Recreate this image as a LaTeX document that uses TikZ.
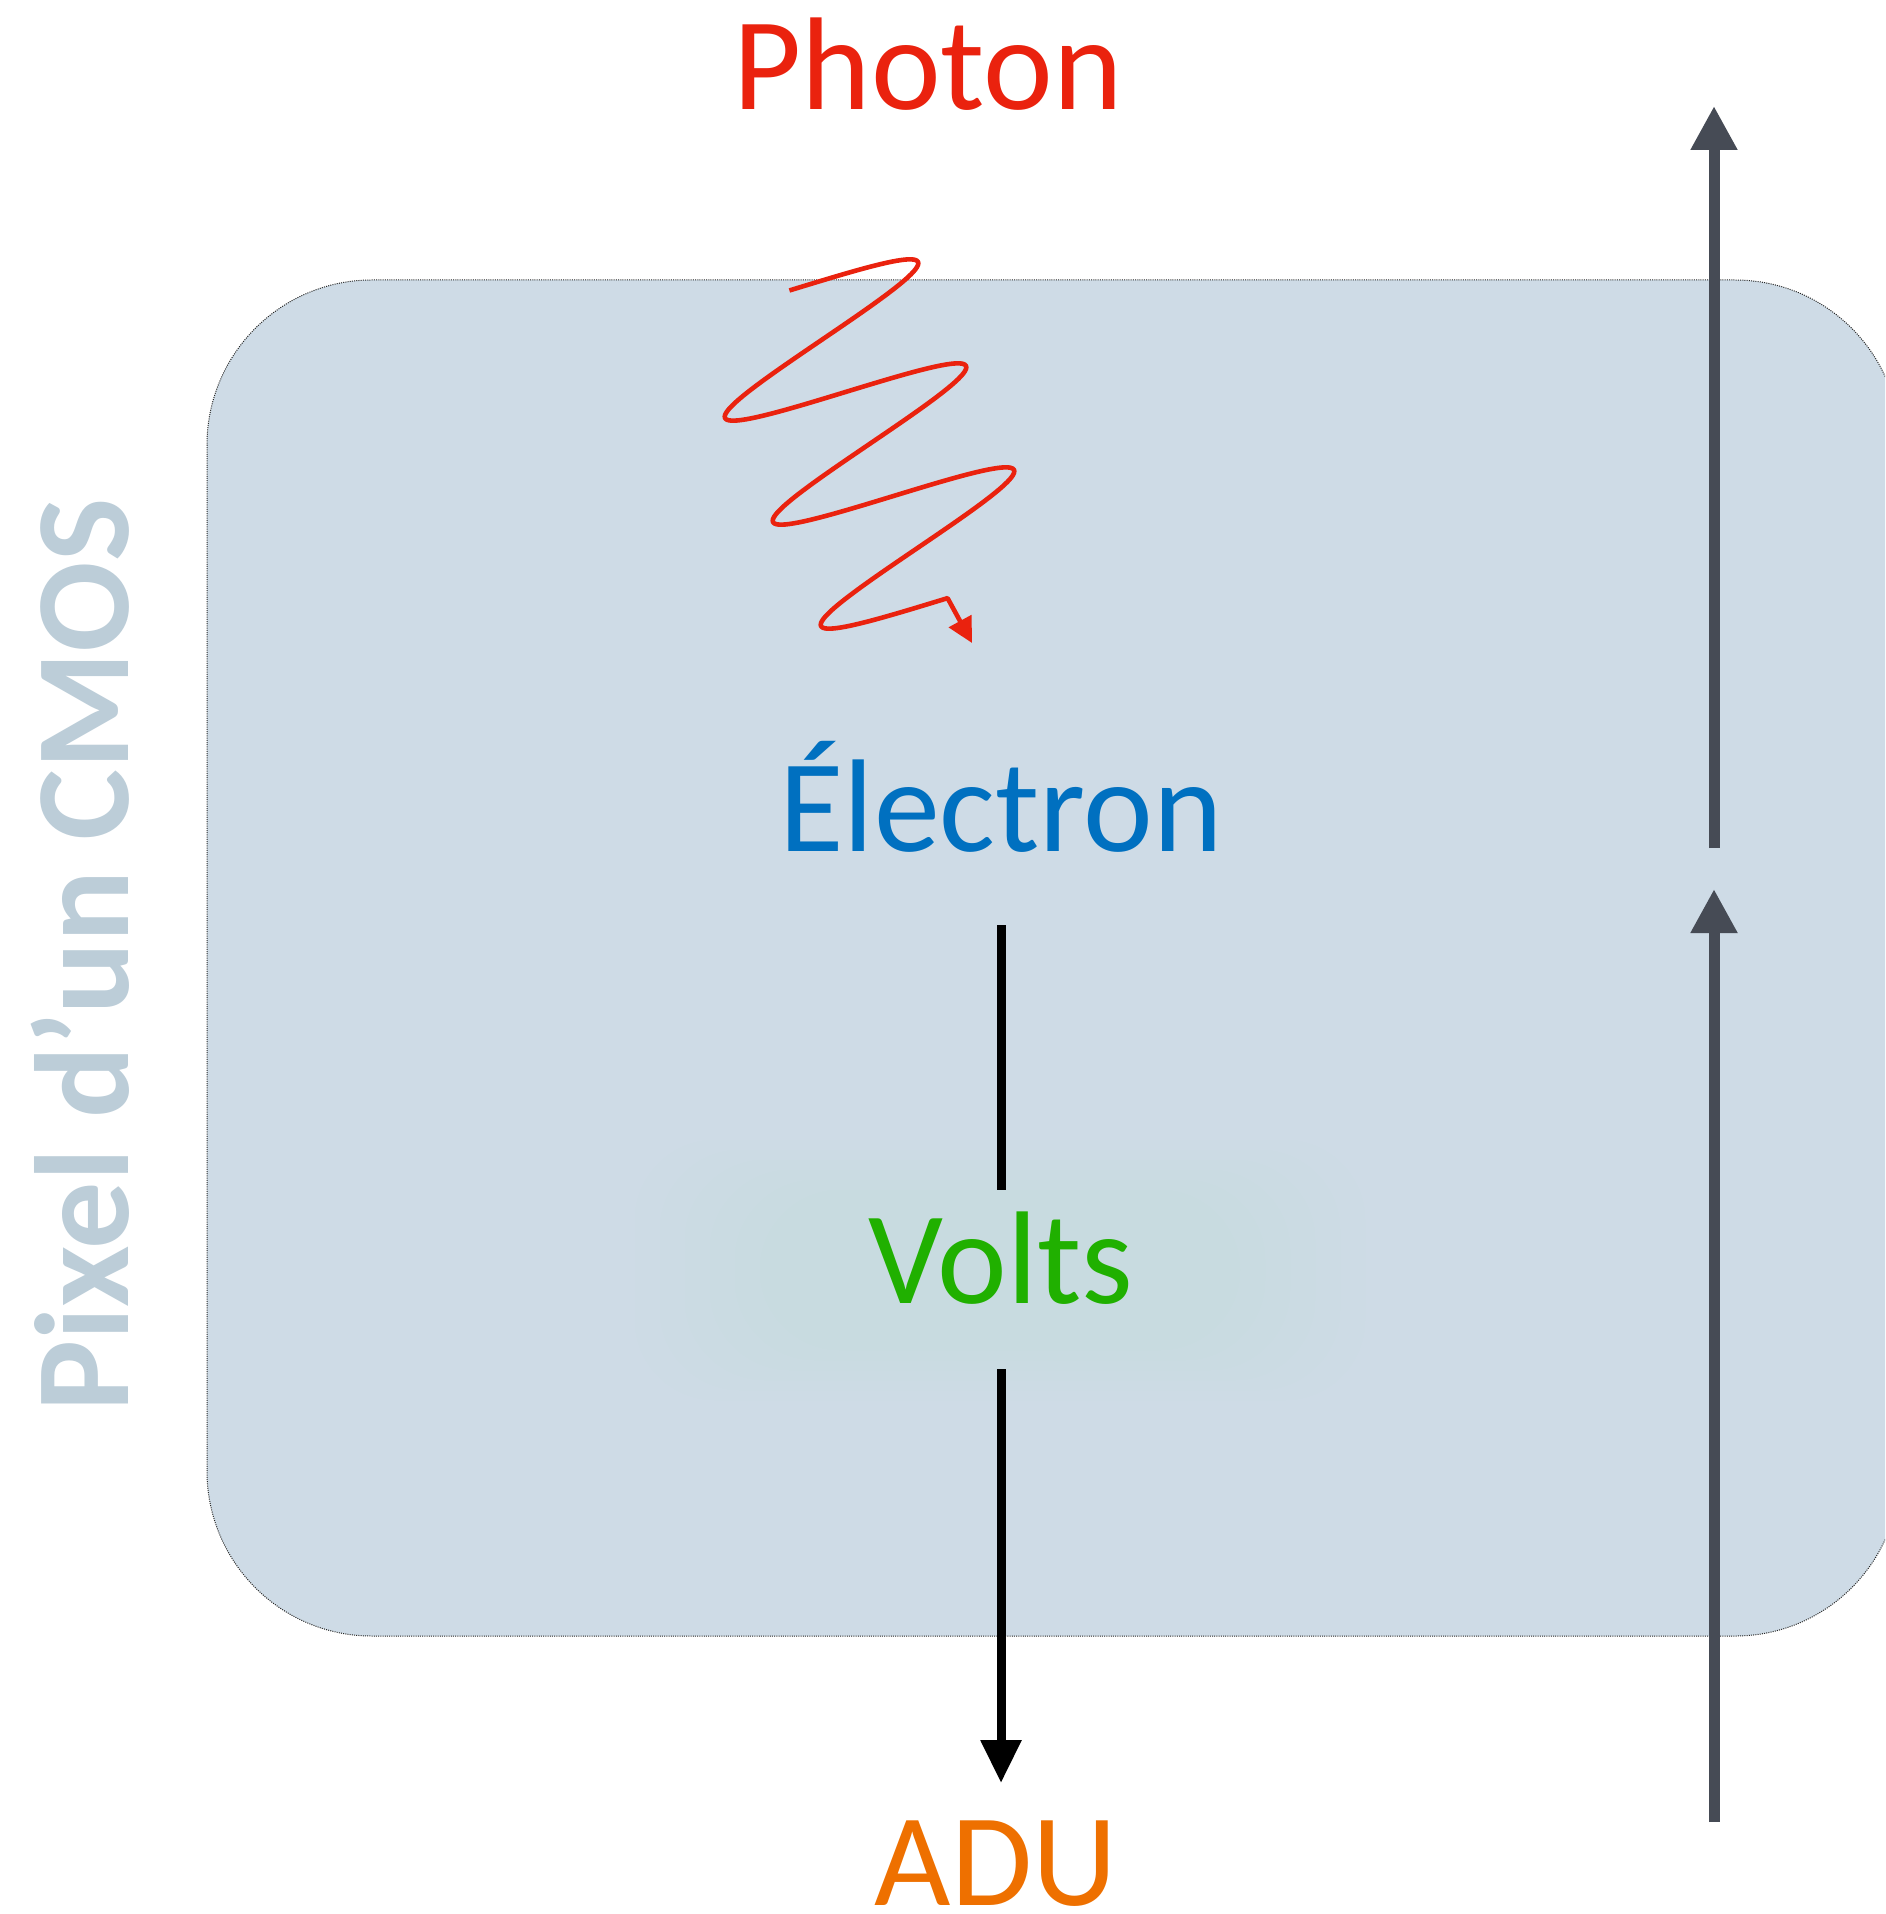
\documentclass[tikz,border=0pt]{standalone}
\usepackage{fontspec}
\setmainfont{Carlito}
\usetikzlibrary{arrows.meta}
\definecolor{boxfill}{RGB}{206,219,230}
\definecolor{glowcol}{RGB}{200,226,224}
\definecolor{photonred}{RGB}{234,34,14}
\definecolor{elecblue}{RGB}{0,112,192}
\definecolor{voltgreen}{RGB}{32,176,0}
\definecolor{aduorange}{RGB}{238,112,0}
\definecolor{arrowgray}{RGB}{70,75,85}
\definecolor{pixgray}{RGB}{188,205,216}
\begin{document}
\begin{tikzpicture}[x=0.5pt,y=-0.5pt,
  lbl/.style={font=\fontsize{66}{79}\selectfont, anchor=base, inner sep=0pt},
  pixbox/.style={fill=boxfill, draw=black!85, line width=0.5pt, dash pattern=on 0.5pt off 0.6pt, rounded corners=82.5pt},
  blackconn/.style={draw=black, line width=4.5pt},
  blackarrow/.style={blackconn, -{Triangle[width=19.5pt,length=21.5pt]}},
  grayarrow/.style={draw=arrowgray, line width=5.5pt, -{Triangle[width=22pt,length=22pt]}},
  wave/.style={draw=photonred, line width=2.3pt, line join=round, -{Triangle[width=12.5pt,length=12.5pt]}}]
\useasboundingbox (0,0) rectangle (1885,1914);
\clip (0,0) rectangle (1885,1914);
\fill[white] (0,0) rectangle (1885,1914);

% pixel box
\path[pixbox] (207,280) rectangle (1900,1636);

% faint glow behind Volts
\foreach \g in {0,...,5}{
  \fill[glowcol, opacity=0.12, rounded corners=40pt]
    (760-25*\g,1190-10*\g) rectangle (1240+25*\g,1350+10*\g);
}

% side label
\node[font=\bfseries\fontsize{67}{80}\selectfont, text=pixgray, rotate=90, anchor=base, inner sep=0pt] (pixlabel) at (128,955) {Pixel d’un CMOS};

% texts
\node[lbl, text=photonred] (photon) at (928,110) {Photon};
\node[lbl, text=elecblue] (electron) at (1001,851) {Électron};
\node[lbl, text=voltgreen] (volts) at (1001,1303) {Volts};
\node[lbl, text=aduorange] (adu) at (996,1905) {ADU};

% photon wave (sheared sinusoid)
\coordinate (wend) at (972,643);
\draw[wave] plot[domain=-94:993, samples=320, variable=\t]
  ({809.5 + \t/360*48 + 108.5*cos(\t)}, {314 + \t/360*104 - 52*cos(\t)})
  -- (wend);

% black connectors
\draw[blackconn] ([yshift=-37pt]electron.base) -- ([yshift=56.5pt]volts.base);
\draw[blackarrow] ([yshift=-33pt]volts.base) -- ([xshift=2.5pt,yshift=61pt]adu.base);

% gray arrows
\coordinate (g1s) at (1714,848);
\coordinate (g1e) at (1714,106);
\coordinate (g2s) at (1714,1822);
\coordinate (g2e) at (1714,889);
\draw[grayarrow] (g1s) -- (g1e);
\draw[grayarrow] (g2s) -- (g2e);
\end{tikzpicture}
\end{document}
